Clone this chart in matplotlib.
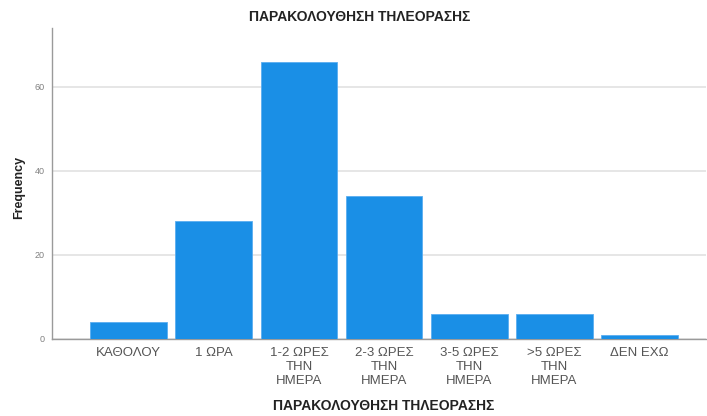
import matplotlib
matplotlib.use("Agg")
import matplotlib.pyplot as plt

categories = ["ΚΑΘΟΛΟΥ", "1 ΩΡΑ", "1-2 ΩΡΕΣ\nΤΗΝ\nΗΜΕΡΑ", "2-3 ΩΡΕΣ\nΤΗΝ\nΗΜΕΡΑ",
              "3-5 ΩΡΕΣ\nΤΗΝ\nΗΜΕΡΑ", ">5 ΩΡΕΣ\nΤΗΝ\nΗΜΕΡΑ", "ΔΕΝ ΕΧΩ"]
frequency = [4, 28, 66, 34, 6, 6, 1]
y_ticks = [0, 20, 40, 60]
title = "ΠΑΡΑΚΟΛΟΥΘΗΣΗ ΤΗΛΕΟΡΑΣΗΣ"

plt.rcParams["font.family"] = ["Liberation Sans", "DejaVu Sans"]

W, H = 707, 416
fig = plt.figure(figsize=(W / 100, H / 100), dpi=100)
ax = fig.add_axes([52 / W, 1 - 339 / H, (706 - 52) / W, (339 - 28) / H])

x = list(range(len(categories)))
ax.bar(x, frequency, width=0.9, color="#1a8fe6", edgecolor="#5aaef0", linewidth=0.6, zorder=3)

ax.set_xlim(-0.9, 6.78)
ax.set_ylim(0, 74)
ax.set_yticks(y_ticks)
ax.set_yticklabels([str(v) for v in y_ticks], fontsize=6.5, color="#808080")
ax.set_xticks(x)
ax.set_xticklabels(categories, fontsize=9.5, color="#555555", linespacing=1.2)
ax.tick_params(axis="both", length=0)
ax.tick_params(axis="x", pad=6)
ax.tick_params(axis="y", pad=5)

ax.grid(axis="y", color="#e2e2e2", linewidth=1.2, zorder=0)
for side in ("top", "right"):
    ax.spines[side].set_visible(False)
for side in ("left", "bottom"):
    ax.spines[side].set_color("#9a9a9a")
    ax.spines[side].set_linewidth(1.0)

fig.text(360 / W, 1 - 17 / H, title, ha="center", va="center", fontsize=10,
         fontweight="bold", color="#222222")
fig.text(384 / W, 1 - 406 / H, title, ha="center", va="center", fontsize=10,
         fontweight="bold", color="#222222")
fig.text(19 / W, 1 - 187 / H, "Frequency", ha="center", va="center", rotation=90,
         fontsize=9, fontweight="bold", color="#222222")

fig.savefig("out.png", dpi=100, facecolor="white")
